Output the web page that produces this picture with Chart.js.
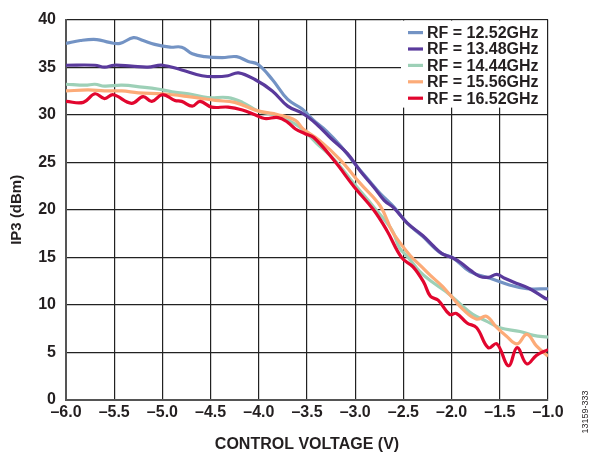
<!DOCTYPE html>
<html>
<head>
<meta charset="utf-8">
<script src="https://cdn.jsdelivr.net/npm/chart.js@4.4.1/dist/chart.umd.min.js"></script>
<style>
  html, body { margin: 0; padding: 0; background: #fff; }
  #wrap { position: relative; width: 593px; height: 458px; }
</style>
</head>
<body>
<div id="wrap"><canvas id="ip3Chart" width="593" height="458"></canvas></div>
<script>
// control voltage (V) / IP3 (dBm) per RF frequency
const rfLabels = ['RF = 12.52GHz', 'RF = 13.48GHz', 'RF = 14.44GHz', 'RF = 15.56GHz', 'RF = 16.52GHz'];
const rfColors = ['#7393c4', '#5a3a9c', '#9dd0b7', '#fcab78', '#e2062e'];

const v1252 = [-6.0, -5.85, -5.68, -5.55, -5.44, -5.3, -5.2, -5.08, -4.92, -4.8, -4.69, -4.56, -4.38, -4.23, -4.11, -4.01, -3.86, -3.7, -3.55, -3.43, -3.3, -3.15, -3.0, -2.85, -2.74, -2.6, -2.46, -2.3, -2.12, -1.98, -1.81, -1.6, -1.4, -1.22, -1.0];
const ip1252 = [37.5, 37.8, 37.9, 37.6, 37.5, 38.1, 37.8, 37.4, 37.1, 37.1, 36.4, 36.1, 36.0, 36.1, 35.6, 35.3, 33.7, 31.6, 30.6, 29.4, 28.3, 26.7, 24.8, 23.0, 21.7, 20.3, 18.6, 17.2, 15.5, 14.9, 13.5, 12.8, 12.1, 11.7, 11.7];

const v1348 = [-6.0, -5.7, -5.6, -5.5, -5.32, -5.15, -5.0, -4.8, -4.59, -4.45, -4.32, -4.21, -4.04, -3.86, -3.7, -3.54, -3.4, -3.25, -3.08, -2.95, -2.8, -2.7, -2.6, -2.46, -2.3, -2.2, -2.1, -1.98, -1.9, -1.8, -1.71, -1.62, -1.53, -1.45, -1.36, -1.19, -1.03, -1.0];
const ip1348 = [35.2, 35.2, 35.0, 35.2, 35.1, 35.0, 35.2, 34.7, 34.1, 34.0, 34.1, 34.4, 33.7, 32.5, 30.9, 30.1, 29.0, 27.5, 25.9, 24.1, 22.3, 21.0, 20.2, 18.6, 17.3, 16.3, 15.4, 14.9, 14.4, 13.6, 13.0, 12.9, 13.2, 12.8, 12.4, 11.7, 10.7, 10.6];

const v1444 = [-6.0, -5.8, -5.7, -5.6, -5.42, -5.21, -5.05, -4.9, -4.73, -4.53, -4.32, -4.17, -4.01, -3.8, -3.62, -3.52, -3.4, -3.22, -3.0, -2.8, -2.62, -2.54, -2.45, -2.33, -2.2, -2.06, -1.9, -1.78, -1.64, -1.5, -1.29, -1.15, -1.0];
const ip1444 = [33.2, 33.1, 33.2, 33.0, 33.1, 32.9, 32.7, 32.4, 32.2, 31.8, 31.8, 31.3, 30.4, 29.9, 29.0, 28.2, 27.0, 25.3, 22.6, 20.2, 17.9, 16.0, 15.0, 13.5, 12.4, 11.4, 10.0, 9.0, 8.3, 7.6, 7.2, 6.8, 6.6];

const v1556 = [-6.0, -5.77, -5.6, -5.42, -5.25, -5.0, -4.73, -4.45, -4.25, -4.01, -3.8, -3.62, -3.54, -3.37, -3.15, -2.95, -2.74, -2.62, -2.54, -2.43, -2.32, -2.22, -2.1, -2.02, -1.88, -1.74, -1.64, -1.53, -1.43, -1.32, -1.22, -1.12, -1.0];
const ip1556 = [32.5, 32.6, 32.5, 32.5, 32.3, 32.2, 31.9, 31.5, 31.3, 30.4, 30.0, 29.4, 28.5, 27.3, 25.2, 22.8, 20.4, 17.8, 16.6, 15.2, 14.1, 13.1, 12.0, 11.1, 9.5, 8.5, 8.8, 7.6, 6.7, 5.9, 6.9, 5.7, 4.6];

const v1652 = [-6.0, -5.82, -5.7, -5.6, -5.51, -5.32, -5.2, -5.11, -5.0, -4.87, -4.8, -4.69, -4.61, -4.49, -4.32, -4.17, -4.04, -3.94, -3.8, -3.7, -3.62, -3.52, -3.43, -3.22, -3.01, -2.81, -2.67, -2.52, -2.4, -2.29, -2.22, -2.14, -2.02, -1.95, -1.84, -1.74, -1.62, -1.53, -1.41, -1.32, -1.22, -1.12, -1.0];
const ip1652 = [31.4, 31.3, 32.2, 31.7, 32.1, 31.2, 31.9, 31.4, 32.1, 31.5, 31.4, 30.9, 31.4, 30.8, 30.8, 30.5, 30.0, 29.6, 29.7, 29.2, 28.5, 28.0, 27.6, 25.2, 22.4, 20.0, 17.8, 15.0, 14.0, 12.4, 10.9, 10.5, 9.0, 9.1, 8.1, 7.6, 5.5, 5.9, 3.6, 5.5, 3.8, 4.7, 5.3];

const voltages = [v1252, v1348, v1444, v1556, v1652];
const ip3Values = [ip1252, ip1348, ip1444, ip1556, ip1652];

const FONT = '"Liberation Sans", Arial, sans-serif';
const INK = '#231f20';

function toPoints(xs, ys) {
  return xs.map((x, i) => ({ x, y: ys[i] }));
}

// lower order is painted last, so the 16.52GHz trace ends up on top
const datasets = rfLabels.map((label, i) => ({
  label,
  data: toPoints(voltages[i], ip3Values[i]),
  borderColor: rfColors[i],
  borderWidth: 3.2,
  pointRadius: 0,
  tension: 0.4,
  fill: false,
  order: rfLabels.length - i
}));

// legend box in the upper right corner of the plot
const legendBox = {
  id: 'legendBox',
  afterDatasetsDraw(chart) {
    const { ctx, chartArea } = chart;
    const right = chartArea.right - 1;
    const top = chartArea.top + 1;
    const w = 146, h = 87;
    ctx.save();
    ctx.fillStyle = '#fff';
    ctx.fillRect(right - w, top, w, h);
    ctx.font = 'bold 16px ' + FONT;
    ctx.textBaseline = 'middle';
    rfLabels.forEach((label, i) => {
      const y = top + 12 + i * 16.4;
      ctx.strokeStyle = rfColors[i];
      ctx.lineWidth = 3.2;
      ctx.beginPath();
      ctx.moveTo(right - w + 7, y);
      ctx.lineTo(right - w + 22, y);
      ctx.stroke();
      ctx.fillStyle = INK;
      ctx.fillText(label, right - w + 26, y + 1);
    });
    ctx.restore();
  }
};

// figure number printed sideways on the right edge
const sideNote = {
  id: 'sideNote',
  afterDraw(chart) {
    const { ctx } = chart;
    ctx.save();
    ctx.translate(586, 412);
    ctx.rotate(-Math.PI / 2);
    ctx.font = '9px ' + FONT;
    ctx.fillStyle = INK;
    ctx.textAlign = 'center';
    ctx.textBaseline = 'middle';
    ctx.fillText('13159-333', 0, 0);
    ctx.restore();
  }
};

new Chart(document.getElementById('ip3Chart'), {
  type: 'line',
  data: { datasets },
  options: {
    responsive: false,
    animation: false,
    layout: { padding: { left: 0, right: 45, top: 14, bottom: 0 } },
    plugins: {
      legend: { display: false },
      tooltip: { enabled: false }
    },
    scales: {
      x: {
        type: 'linear',
        min: -6,
        max: -1,
        afterFit: s => { s.height = 58; },
        ticks: {
          stepSize: 0.5,
          padding: 3,
          color: INK,
          font: { family: FONT, size: 16, weight: 'bold' },
          callback: v => v.toFixed(1).replace('-', '\u2013')
        },
        grid: { color: '#222', lineWidth: 1.2, drawTicks: false },
        border: { color: '#555', width: 2 },
        title: {
          display: true,
          text: 'CONTROL VOLTAGE (V)',
          color: INK,
          font: { family: FONT, size: 16, weight: 'bold' },
          padding: { top: 8, bottom: 4 }
        }
      },
      y: {
        min: 0,
        max: 40,
        afterFit: s => { s.width = 66; },
        ticks: {
          stepSize: 5,
          padding: 10,
          color: INK,
          font: { family: FONT, size: 16, weight: 'bold' }
        },
        grid: { color: '#222', lineWidth: 1.2, drawTicks: false },
        border: { color: '#555', width: 2 },
        title: {
          display: true,
          text: 'IP3 (dBm)',
          color: INK,
          font: { family: FONT, size: 15, weight: 'bold' },
          padding: { top: 8, bottom: 0 }
        }
      }
    }
  },
  plugins: [legendBox, sideNote]
});
</script>
</body>
</html>
